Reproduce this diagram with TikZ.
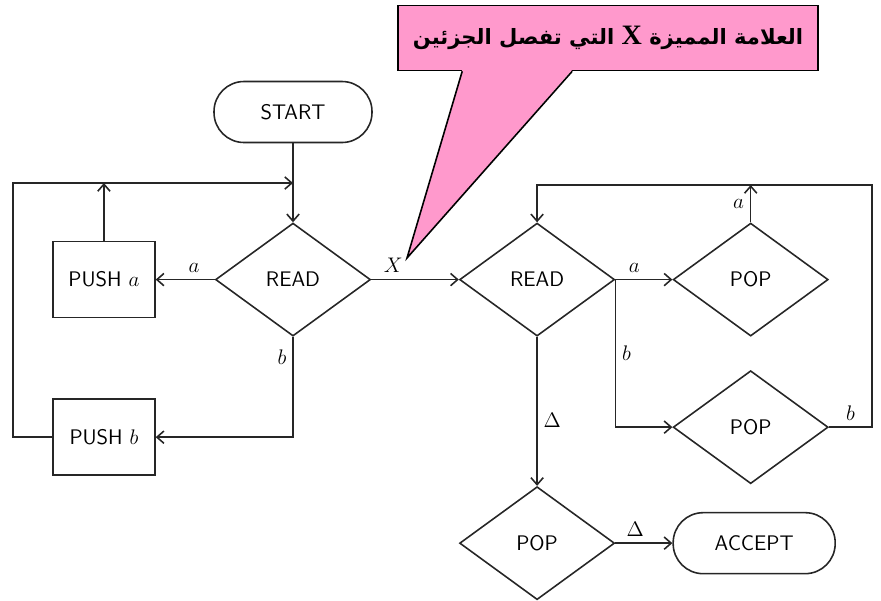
\documentclass[tikz,border=0pt]{standalone}
\usepackage{fontspec}
\newfontfamily\arabicfont[Script=Arabic]{DejaVu Sans}
\newfontfamily\timesfont{Liberation Serif}
\TeXXeTstate=1
\usetikzlibrary{shapes.geometric, arrows.meta, positioning, calc}
\definecolor{calloutpink}{RGB}{255,153,204}
\tikzset{
  basebox/.style={
    draw=black!85, line width=0.9pt, align=center, font=\fontsize{12}{14}\selectfont\sffamily
  },
  pushbox/.style={basebox, rectangle, minimum width=2.04cm, minimum height=1.52cm},
  termbox/.style={basebox, rectangle, rounded corners=0.6cm, minimum height=1.22cm},
  decisionbox/.style={basebox, diamond, minimum width=3.1cm, minimum height=2.26cm, inner sep=0pt},
  notebox/.style={rectangle, draw=black, fill=calloutpink, line width=0.9pt,
    minimum width=8.4cm, minimum height=1.3cm},
  arrow/.style={->, >={Straight Barb[length=4pt,width=7pt]}, line width=0.9pt, draw=black!85},
  lbl/.style={font=\fontsize{12}{14}\selectfont}
}

\begin{document}
\begin{tikzpicture}
  \useasboundingbox (0,0) rectangle (17.62,-12);

  \node[termbox, minimum width=3.16cm] (start) at (5.86,-2.24) {START};
  \node[decisionbox, below=1.58cm of start] (read1) {READ};
  \node[pushbox, left=1.18cm of read1] (pusha) {PUSH $a$};
  \node[pushbox, below=1.6cm of pusha] (pushb) {PUSH $b$};
  \node[decisionbox, right=1.75cm of read1] (read2) {READ};
  \node[decisionbox, right=1.14cm of read2] (pop1) {POP};
  \node[decisionbox, below=0.66cm of pop1] (pop2) {POP};
  \node[decisionbox, below=2.98cm of read2] (pop3) {POP};
  \node[termbox, minimum width=3.24cm, right=1.14cm of pop3] (accept) {ACCEPT};

  \coordinate (ltop) at (0.26,-3.66);
  \coordinate (rtop) at (17.44,-3.7);

  % left half: push loop
  \draw[arrow] (start) -- (read1);
  \draw[arrow] (read1) -- node[lbl, above, pos=0.35]{$a$} (pusha);
  \draw[arrow] (pusha) -- (pusha |- ltop);
  \draw[arrow] (read1.south) |- node[lbl, left, pos=0.1]{$b$} (pushb.east);
  \draw[arrow] (pushb.west) -| (ltop) -- (read1.north |- ltop);
  \draw[arrow] (read1) -- node[lbl, above, pos=0.25]{$X$} (read2);

  % right half: pop loop
  \draw[arrow] (read2) -- node[lbl, above, pos=0.33]{$a$} (pop1);
  \draw[arrow] (read2.east) |- node[lbl, right, pos=0.25]{$b$} (pop2.west);
  \draw[arrow] (pop1) -- node[lbl, left, pos=0.5]{$a$} (pop1.north |- rtop);
  \draw[arrow] (pop2.east) -- node[lbl, above]{$b$} (pop2.east -| rtop) -- (rtop) -| (read2.north);
  \draw[arrow] (read2) -- node[lbl, right, pos=0.56]{$\Delta$} (pop3);
  \draw[arrow] (pop3) -- node[lbl, above, pos=0.35]{$\Delta$} (accept);

  % callout
  \node[notebox] (note) at (12.16,-0.76)
    {\arabicfont\bfseries\fontsize{12}{15}\selectfont\beginR العلامة المميزة {\timesfont\bfseries\fontsize{16}{15}\selectfont X} التي تفصل الجزئين\endR};
  \coordinate (tip) at (8.14,-5.16);
  \fill[calloutpink] ($(note.south west)+(1.3,0.03)$) -- (tip) -- ($(note.south west)+(3.5,0.03)$) -- cycle;
  \draw[line width=0.9pt] ($(note.south west)+(1.3,0)$) -- (tip) -- ($(note.south west)+(3.5,0)$);
\end{tikzpicture}
\end{document}
